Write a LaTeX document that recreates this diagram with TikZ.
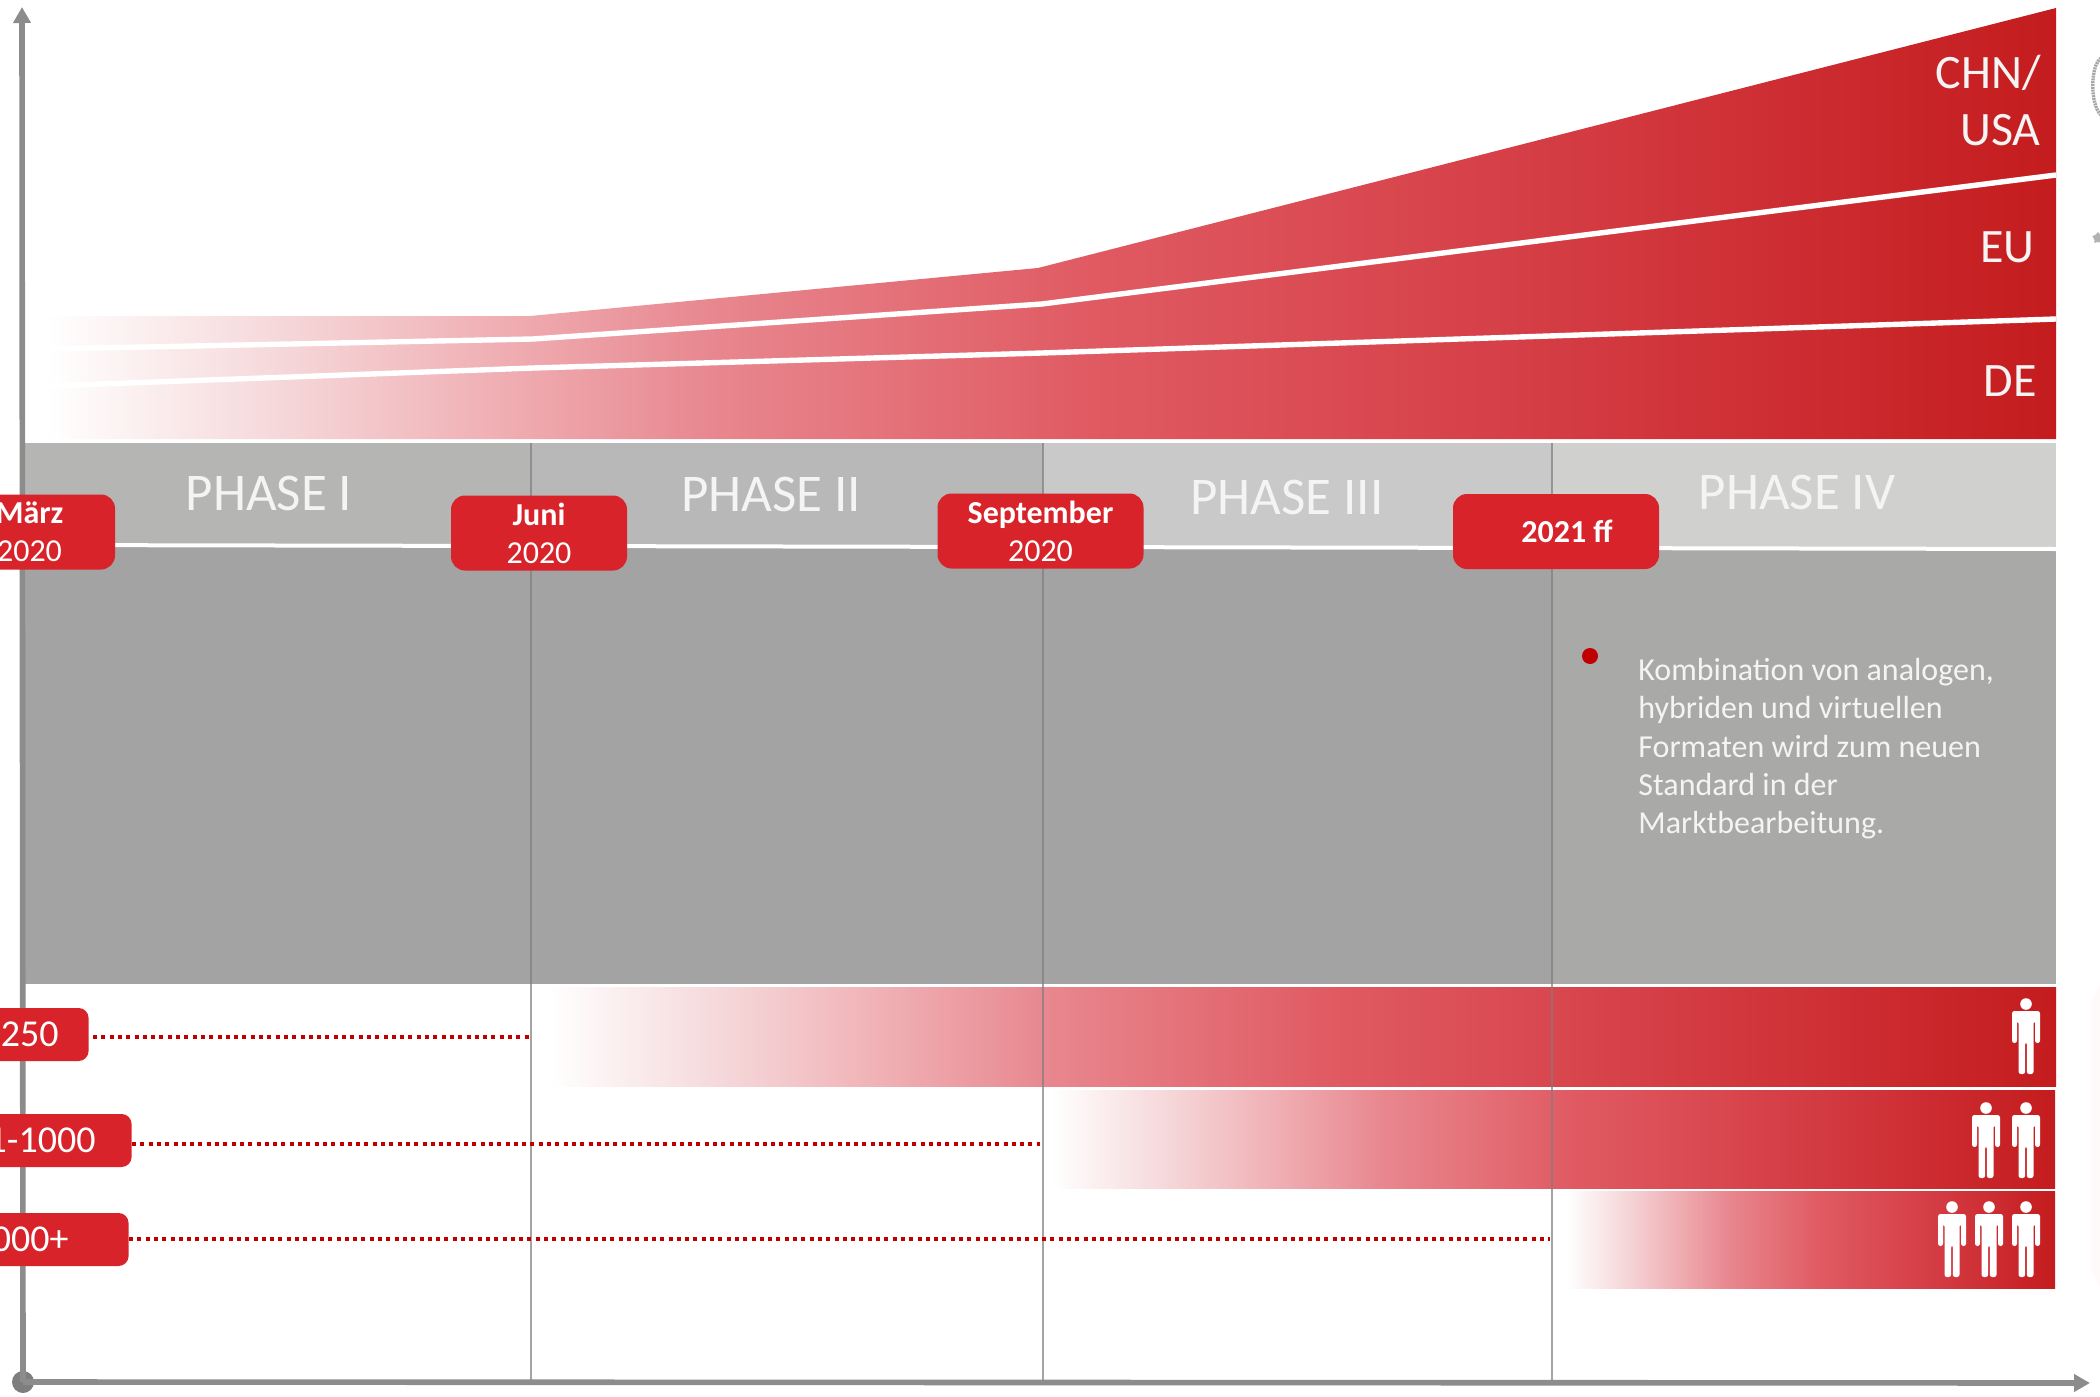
\documentclass[tikz,border=0pt]{standalone}
\usepackage{fontspec}
\setmainfont{Carlito}
\usetikzlibrary{arrows.meta,shapes.geometric}
\definecolor{rd}{HTML}{D8232A}
\definecolor{dk}{HTML}{C00000}
\definecolor{ax}{HTML}{8C8C8C}
\definecolor{txt}{HTML}{F4F4F4}
\definecolor{rZ}{HTML}{F5D6D8}
\definecolor{rY}{HTML}{F1B8BC}
\definecolor{rA}{HTML}{E8878F}
\definecolor{rB}{HTML}{E05A62}
\definecolor{rC}{HTML}{D64048}
\definecolor{rD}{HTML}{C41C1E}
\pgfdeclarehorizontalshading{redfade}{100bp}{
 color(0bp)=(white); color(25bp)=(white); color(31bp)=(rZ); color(35bp)=(rY); color(41.5bp)=(rA); color(51bp)=(rB); color(61bp)=(rC); color(75bp)=(rD); color(100bp)=(rD)}
\tikzset{
 x=0.5pt,y=-0.5pt,
 fade/.style={shading=redfade,draw=none},
 axisline/.style={draw=ax,line width=2.8pt},
 divider/.style={draw=ax!90!black,line width=0.6pt,opacity=.7},
 whiteline/.style={draw=white,line width=2pt},
 badge/.style={fill=rd,rounded corners=7pt,inner sep=0pt,text=white,align=center,font=\fontsize{16}{19}\selectfont},
 lbadge/.style={fill=rd,rounded corners=5pt,inner ysep=0pt,text=white,align=right,font=\fontsize{19}{22}\selectfont,minimum height=26.5pt,anchor=east},
 dots/.style={draw=dk,line width=2pt,dash pattern=on 2pt off 2.15pt},
 phasetext/.style={text=txt,anchor=base,font=\fontsize{26.5}{30}\selectfont,inner sep=0pt},
 regiontext/.style={text=txt,anchor=base east,font=\fontsize{24}{30}\selectfont,inner sep=0pt},
 body/.style={text=txt,anchor=base west,font=\fontsize{16}{19}\selectfont,inner sep=0pt},
 person/.pic={
  \fill[white] (0,0) circle (5.8);
  \fill[white,rounded corners=1.2pt] (-14,39)--(-14,7)--(14,7)--(14,39)--(9,39)--(9,17)--(7.5,17)--(7.5,70)--(0.8,70)--(0.8,38)--(-0.8,38)--(-0.8,70)--(-7.5,70)--(-7.5,17)--(-9,17)--(-9,39)--cycle;
 }
}
\begin{document}
\begin{tikzpicture}
\useasboundingbox (0,0) rectangle (2100,1397);
% faint objects at the right edge
\fill[red!2] (2091,1000)--(2100,985)--(2100,1287)--(2091,1272)--cycle;
\draw[gray!70,line width=1.7pt,dash pattern=on 1pt off .4pt] (2101,58) .. controls (2090,66) and (2090,105) .. (2101,115);
\node[star,star points=5,fill=gray!60,inner sep=0pt,minimum size=6pt] (st) at (2098,238) {};
% grey panels
\fill[fill={rgb,255:red,181;green,181;blue,179}] (24,443) rectangle (530,547);
\fill[fill={rgb,255:red,184;green,184;blue,184}] (530,443) rectangle (1043,547);
\fill[fill={rgb,255:red,201;green,201;blue,201}] (1043,443) rectangle (1552,549);
\fill[fill={rgb,255:red,208;green,208;blue,206}] (1552,443) rectangle (2056,549);
\fill[fill={rgb,255:red,163;green,163;blue,163}] (24,547) rectangle (1552,984);
\fill[fill={rgb,255:red,169;green,169;blue,168}] (1552,547) rectangle (2056,984);
\draw[whiteline] (24,545)--(2056,549);
% top gradient
\path[fade] (47,316)--(530,316)--(1038,268)--(2056,8)--(2056,439)--(47,439)--cycle;
\draw[whiteline,line width=2.7pt] (47,349)--(533,339)--(1042,304)--(2056,175);
\draw[whiteline,line width=2.7pt] (47,386)--(533,368)--(1042,353)--(2056,319);
% bottom bars
\path[fade] (549,987) rectangle (2056,1086);
\path[fade] (1051,1090) rectangle (2055,1188);
\path[fade] (1567,1191) rectangle (2055,1288);
% axes
\node[circle,fill=ax!90!black,minimum size=11pt,inner sep=0pt] (o) at (23,1382) {};
\coordinate (ytop) at (22,7);
\coordinate (xend) at (2090,1383);
\draw[axisline,-{Triangle[length=8pt,width=8.5pt]}] (o.center)--(ytop);
\draw[axisline,-{Triangle[length=8pt,width=8.5pt]}] (o.center)--(xend);
% dividers
\coordinate (d1a) at (531,443); \coordinate (d1b) at (531,1380);
\coordinate (d2a) at (1043,443); \coordinate (d2b) at (1043,1380);
\coordinate (d3a) at (1552,443); \coordinate (d3b) at (1552,1380);
\draw[divider] (d1a)--(d1b);
\draw[divider] (d2a)--(d2b);
\draw[divider] (d3a)--(d3b);
% phase labels
\node[phasetext] (p1) at (269,510) {PHASE I};
\node[phasetext] (p2) at (771,511) {PHASE II};
\node[phasetext] (p3) at (1287,514) {PHASE III};
\node[phasetext] (p4) at (1797,509) {PHASE IV};
% date badges
\node[badge,minimum width=85.5pt,minimum height=37.5pt] (b1) at (29.5,532) {\textbf{März}\\2020};
\node[badge,minimum width=88pt,minimum height=37.5pt] (b2) at (539,533) {\textbf{Juni}\\2020};
\node[badge,minimum width=103pt,minimum height=37.5pt] (b3) at (1040.5,531) {\textbf{September}\\2020};
\node[badge,minimum width=103pt,minimum height=37.5pt] (b4) at (1556,531.5) {\hspace*{11pt}\textbf{2021 ff}};
% region labels
\node[regiontext] (r1) at (2041,88) {CHN/};
\node[regiontext] (r2) at (2041,145) {USA};
\node[regiontext] (r3) at (2035,262) {EU};
\node[regiontext] (r4) at (2037,396) {DE};
% body text
\node[circle,fill=dk,minimum size=8pt,inner sep=0pt] (bul) at (1590,656) {};
\node[body] (t1) at (1638,680) {Kombination von analogen,};
\node[body] (t2) at (1638,718) {hybriden und virtuellen};
\node[body] (t3) at (1638,757) {Formaten wird zum neuen};
\node[body] (t4) at (1638,795) {Standard in der};
\node[body] (t5) at (1638,833) {Marktbearbeitung.};
% size badges
\node[lbadge,text width=45pt,inner xsep=15pt] (s1) at (89,1034.5) {\raisebox{-1.6pt}{-250}};
\node[lbadge,text width=60pt,inner xsep=18pt] (s2) at (132,1140.5) {\raisebox{-2.6pt}{1-1000}};
\node[lbadge,text width=40pt,inner xsep=30pt] (s3) at (129,1239.5) {\raisebox{-1.6pt}{000+}};
\coordinate (e1) at (530,1037);
\coordinate (e2) at (1040,1144);
\coordinate (e3) at (1550,1239);
\draw[dots] (s1.east |- e1) ++(4,0) -- (e1);
\draw[dots] (s2.east |- e2) -- (e2);
\draw[dots] (s3.east |- e3) -- (e3);
% people
\pic at (2026,1004) {person};
\pic at (1986,1108) {person};
\pic at (2026,1108) {person};
\pic at (1952,1207) {person};
\pic at (1989,1207) {person};
\pic at (2026,1207) {person};
\end{tikzpicture}
\end{document}
